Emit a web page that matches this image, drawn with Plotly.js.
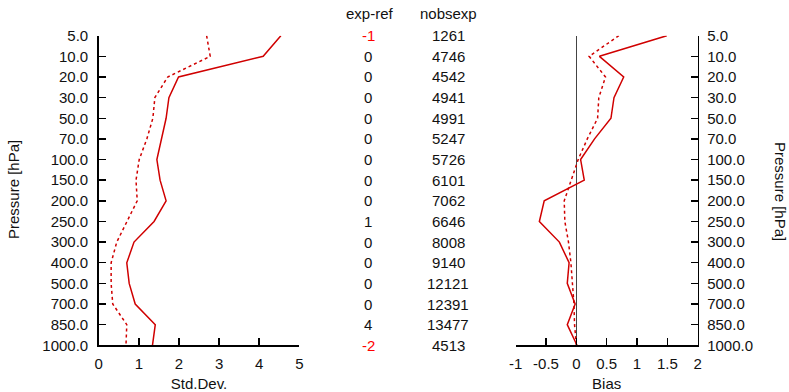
<!DOCTYPE html>
<html>
<head>
<meta charset="utf-8">
<script src="https://cdn.plot.ly/plotly-3.0.1.min.js"></script>
<style>html,body{margin:0;padding:0;background:#fff;}#chart{width:789px;height:392px;}</style>
</head>
<body>
<div id="chart"></div>
<script>
var levels = ["5.0","10.0","20.0","30.0","50.0","70.0","100.0","150.0","200.0","250.0","300.0","400.0","500.0","700.0","850.0","1000.0"];
var stdExp = [4.54,4.10,1.99,1.75,1.68,1.57,1.45,1.53,1.68,1.38,0.88,0.70,0.76,0.91,1.41,1.34];
var stdRef = [2.69,2.78,1.72,1.40,1.35,1.20,1.01,0.93,0.96,0.70,0.45,0.31,0.31,0.35,0.70,0.68];
var biasExp = [1.49,0.38,0.78,0.62,0.57,0.30,0.07,0.13,-0.53,-0.61,-0.28,-0.12,-0.15,-0.02,-0.15,0.01];
var biasRef = [0.70,0.21,0.48,0.37,0.35,0.18,0.03,-0.09,-0.20,-0.19,-0.13,-0.09,-0.06,-0.04,-0.03,0.00];
var expMinusRef = [-1,0,0,0,0,0,0,0,0,1,0,0,0,0,4,-2];
var nobsExp = [1261,4746,4542,4941,4991,5247,5726,6101,7062,6646,8008,9140,12121,12391,13477,4513];
var stdTicks = [0,1,2,3,4,5];
var biasTicks = [-1,-0.5,0,0.5,1,1.5,2];
var biasTickText = ["-1","-0.5","0","0.5","1","1.5","2"];

var W = 789, H = 392;
var idx = levels.map(function(_, i){ return i; });
var lineColor = "#d00000";
var font = "Liberation Sans, Arial, Helvetica, sans-serif";
var fs = 15;

var traces = [
  {x: stdExp, y: idx, xaxis: "x", yaxis: "y", mode: "lines", line: {color: lineColor, width: 1.5}, hoverinfo: "skip"},
  {x: stdRef, y: idx, xaxis: "x", yaxis: "y", mode: "lines", line: {color: lineColor, width: 1.5, dash: "dot"}, hoverinfo: "skip"},
  {x: biasExp, y: idx, xaxis: "x2", yaxis: "y2", mode: "lines", line: {color: lineColor, width: 1.5}, hoverinfo: "skip"},
  {x: biasRef, y: idx, xaxis: "x2", yaxis: "y2", mode: "lines", line: {color: lineColor, width: 1.5, dash: "dot"}, hoverinfo: "skip"}
];

var ydom = [1 - 345.3/H, 1 - 35.7/H];
var axCommon = {showgrid: false, zeroline: false, showline: true, linecolor: "#000", linewidth: 1.5,
  ticks: "inside", ticklen: 7, tickcolor: "#000", tickwidth: 1.5, tickfont: {family: font, size: fs, color: "#111"}};

var annotations = [];
annotations.push({xref: "paper", yref: "paper", x: 370/W, y: 1 - 13/H, text: "exp-ref", showarrow: false, font: {family: font, size: fs, color: "#111"}, xanchor: "center", yanchor: "middle"});
annotations.push({xref: "paper", yref: "paper", x: 448/W, y: 1 - 13/H, text: "nobsexp", showarrow: false, font: {family: font, size: fs, color: "#111"}, xanchor: "center", yanchor: "middle"});
for (var i = 0; i < levels.length; i++) {
  annotations.push({xref: "paper", yref: "y", x: 368/W, y: idx[i], text: String(expMinusRef[i]), showarrow: false,
    font: {family: font, size: fs, color: expMinusRef[i] < 0 ? "#ff0000" : "#111"}, xanchor: "center", yanchor: "middle"});
  annotations.push({xref: "paper", yref: "y", x: 448/W, y: idx[i], text: String(nobsExp[i]), showarrow: false,
    font: {family: font, size: fs, color: "#111"}, xanchor: "center", yanchor: "middle"});
}
annotations.push({xref: "paper", yref: "paper", x: 14/W, y: 1 - 190/H, text: "Pressure [hPa]", textangle: -90, showarrow: false,
  font: {family: font, size: fs, color: "#111"}, xanchor: "center", yanchor: "middle"});
annotations.push({xref: "paper", yref: "paper", x: 781/W, y: 1 - 191/H, text: "Pressure [hPa]", textangle: 90, showarrow: false,
  font: {family: font, size: fs, color: "#111"}, xanchor: "center", yanchor: "middle"});

var layout = {
  width: W, height: H,
  margin: {l: 0, r: 0, t: 0, b: 0},
  paper_bgcolor: "#fff", plot_bgcolor: "#fff",
  showlegend: false,
  xaxis: Object.assign({}, axCommon, {domain: [98.7/W, 299.3/W], range: [0, 5], tickvals: stdTicks, anchor: "y", ticklabelstandoff: 4,
    title: {text: "Std.Dev.", font: {family: font, size: fs, color: "#111"}, standoff: 15}}),
  yaxis: Object.assign({}, axCommon, {domain: ydom, range: [15, 0], tickvals: idx, ticktext: levels, anchor: "x", side: "left", ticklabelstandoff: 6}),
  xaxis2: Object.assign({}, axCommon, {domain: [515.7/W, 697.7/W], range: [-1, 2], tickvals: biasTicks, ticktext: biasTickText, anchor: "y2", ticklabelstandoff: 4,
    zeroline: true, zerolinecolor: "#444", zerolinewidth: 1,
    title: {text: "Bias", font: {family: font, size: fs, color: "#111"}, standoff: 15}}),
  yaxis2: Object.assign({}, axCommon, {domain: ydom, range: [15, 0], tickvals: idx, ticktext: levels, anchor: "x2", side: "right", ticklabelstandoff: 5}),
  annotations: annotations
};

Plotly.newPlot("chart", traces, layout, {displayModeBar: false, staticPlot: true});
</script>
</body>
</html>
